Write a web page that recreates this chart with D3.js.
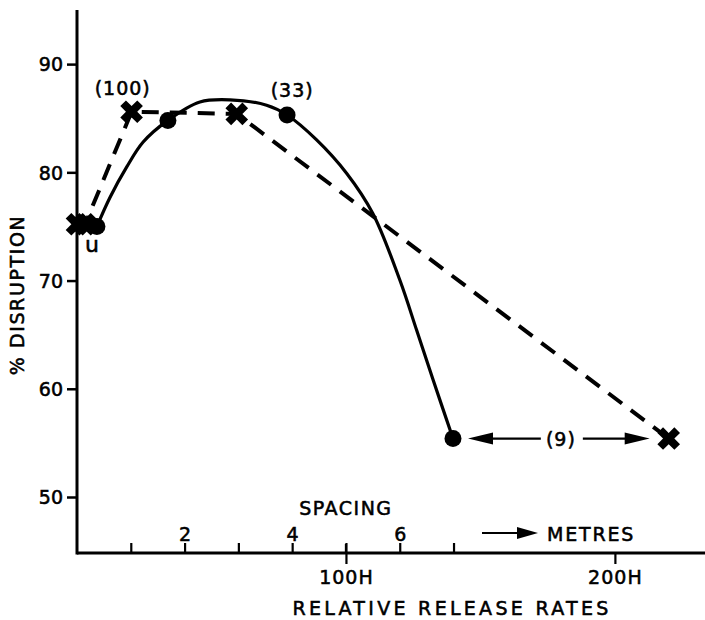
<!DOCTYPE html>
<html>
<head>
<meta charset="utf-8">
<script src="https://cdn.jsdelivr.net/npm/d3@7"></script>
<style>
  html, body { margin: 0; padding: 0; background: #fff; }
  svg { display: block; }
  text { font-family: "DejaVu Sans", sans-serif; fill: #000; stroke: #000; stroke-width: 0.55px; }
</style>
</head>
<body>
<svg id="chart" width="705" height="620"></svg>
<script>
// ---------- data (x in relative release rate units, H; y in % disruption) ----------
const yTicks = [50, 60, 70, 80, 90];
const metreTicks = [1, 2, 3, 4, 5, 6, 7];
const metreLabels = [2, 4, 6];
const rateTicks = [100, 200];
const rateTickLabels = ["100H", "200H"];

// solid-line series (filled circles)
const circleX = [7.4, 33.8, 78.1, 139.8];
const circleY = [75.0, 84.8, 85.3, 55.4];

// dashed-line series (crosses)
const crossX = [0, 3, 20.3, 59.4, 220];
const crossY = [75.2, 75.2, 85.6, 85.4, 55.4];

// fitted solid curve
const fitX = [7.4, 12.3, 18.5, 24.6, 33.8, 45.7, 56.9, 70.5, 78.1, 89.1, 100.3, 110.0, 120.1, 126.3, 132.3, 139.8];
const fitY = [75.0, 77.7, 80.5, 82.8, 84.8, 86.5, 86.7, 86.2, 85.3, 83.0, 79.9, 76.2, 70.0, 65.4, 60.9, 55.4];

// annotations
const annoText = ["(100)", "(33)"];
const annoX = [17, 80];
const annoY = [87.1, 86.95];

// ---------- scales ----------
const svg = d3.select("#chart");
const x = d3.scaleLinear().domain([0, 233.5]).range([77, 705]);
const xm = d3.scaleLinear().domain([0, 233.5 / 20]).range([77, 705]);
const y = d3.scaleLinear().domain([50, 95]).range([497, 10]);
const axisY = 553;

// ---------- y axis ----------
svg.append("line").attr("x1", 77).attr("x2", 77).attr("y1", 10).attr("y2", axisY + 1.5)
  .attr("stroke", "#000").attr("stroke-width", 3);
const yAxis = svg.append("g").attr("transform", "translate(77,0)")
  .call(d3.axisLeft(y).tickValues(yTicks).tickSize(10).tickSizeOuter(0).tickPadding(4));
yAxis.select(".domain").remove();
yAxis.selectAll(".tick line").attr("stroke", "#000").attr("stroke-width", 2.5);
yAxis.selectAll(".tick text").attr("font-size", 19).attr("dy", "0.36em").attr("fill", "#000");

svg.append("text").attr("transform", "translate(24,295) rotate(-90)")
  .attr("text-anchor", "middle").attr("font-size", 19).attr("letter-spacing", 1.6)
  .text("% DISRUPTION");

// ---------- x axis ----------
svg.append("line").attr("x1", 77).attr("x2", 705).attr("y1", axisY).attr("y2", axisY)
  .attr("stroke", "#000").attr("stroke-width", 3);

// metre ticks (above axis)
const mAxis = svg.append("g").attr("transform", `translate(0,${axisY})`)
  .call(d3.axisTop(xm).tickValues(metreTicks).tickSize(10).tickSizeOuter(0)
    .tickFormat(d => metreLabels.includes(d) ? d : ""));
mAxis.select(".domain").remove();
mAxis.selectAll(".tick line").attr("stroke", "#000").attr("stroke-width", 2.2);
mAxis.selectAll(".tick text").attr("font-size", 19).attr("y", -12).attr("dy", 0).attr("fill", "#000");

// release-rate ticks (below axis)
const rAxis = svg.append("g").attr("transform", `translate(0,${axisY})`)
  .call(d3.axisBottom(x).tickValues(rateTicks).tickSize(11).tickSizeOuter(0)
    .tickFormat((d, i) => rateTickLabels[i]));
rAxis.select(".domain").remove();
rAxis.selectAll(".tick line").attr("stroke", "#000").attr("stroke-width", 2.2);
rAxis.selectAll(".tick text").attr("font-size", 19).attr("y", 31).attr("dy", 0)
  .attr("letter-spacing", 1).attr("fill", "#000");
// 100H tick also crosses above
svg.append("line").attr("x1", x(100)).attr("x2", x(100)).attr("y1", axisY - 9).attr("y2", axisY)
  .attr("stroke", "#000").attr("stroke-width", 2.2);

svg.append("text").attr("x", x(100)).attr("y", 515).attr("text-anchor", "middle")
  .attr("font-size", 19).attr("letter-spacing", 1.5).text("SPACING");
svg.append("text").attr("x", 452).attr("y", 615).attr("text-anchor", "middle")
  .attr("font-size", 19).attr("letter-spacing", 3.3).text("RELATIVE RELEASE RATES");

// "→ METRES"
svg.append("line").attr("x1", 482).attr("x2", 520).attr("y1", 533).attr("y2", 533)
  .attr("stroke", "#000").attr("stroke-width", 2.2);
svg.append("path").attr("d", "M517,527 L538,533 L517,539 Z").attr("fill", "#000");
svg.append("text").attr("x", 547).attr("y", 541).attr("font-size", 19)
  .attr("letter-spacing", 1.8).text("METRES");

// ---------- lines ----------
const fitPts = fitX.map((d, i) => [d, fitY[i]]);
const crossPts = crossX.map((d, i) => [d, crossY[i]]);

svg.append("path").datum(fitPts)
  .attr("d", d3.line().x(d => x(d[0])).y(d => y(d[1])).curve(d3.curveCatmullRom.alpha(0.5)))
  .attr("fill", "none").attr("stroke", "#000").attr("stroke-width", 3.2);

svg.append("path").datum(crossPts)
  .attr("d", d3.line().x(d => x(d[0])).y(d => y(d[1])))
  .attr("fill", "none").attr("stroke", "#000").attr("stroke-width", 4)
  .attr("stroke-dasharray", "17,11");

// ---------- markers ----------
svg.selectAll("circle.pt").data(circleX).join("circle").attr("class", "pt")
  .attr("cx", d => x(d)).attr("cy", (d, i) => y(circleY[i])).attr("r", 8.5).attr("fill", "#000");

svg.selectAll("path.cross").data(crossX).join("path").attr("class", "cross")
  .attr("d", d3.symbol().type(d3.symbolCross).size(320))
  .attr("transform", (d, i) => `translate(${x(d)},${y(crossY[i])}) rotate(45)`)
  .attr("fill", "#000");

// ---------- annotations ----------
svg.selectAll("text.anno").data(annoText).join("text").attr("class", "anno")
  .attr("x", (d, i) => x(annoX[i])).attr("y", (d, i) => y(annoY[i]))
  .attr("text-anchor", "middle").attr("font-size", 19).attr("letter-spacing", 1)
  .text(d => d);

svg.append("text").attr("x", 92).attr("y", 252).attr("text-anchor", "middle")
  .attr("font-size", 22).text("u");

// "(9)" with double-headed arrow between the last circle and last cross
const arrowY = y(55.4);
const leftTip = x(circleX[3]) + 15, rightTip = x(crossX[4]) - 19;
const midX = (leftTip + rightTip) / 2 + 2;
svg.append("line").attr("x1", leftTip + 20).attr("x2", midX - 20).attr("y1", arrowY).attr("y2", arrowY)
  .attr("stroke", "#000").attr("stroke-width", 2.2);
svg.append("line").attr("x1", midX + 22).attr("x2", rightTip - 20).attr("y1", arrowY).attr("y2", arrowY)
  .attr("stroke", "#000").attr("stroke-width", 2.2);
svg.append("path").attr("d", `M${leftTip},${arrowY} L${leftTip + 25},${arrowY - 6} L${leftTip + 25},${arrowY + 6} Z`).attr("fill", "#000");
svg.append("path").attr("d", `M${rightTip},${arrowY} L${rightTip - 25},${arrowY - 6} L${rightTip - 25},${arrowY + 6} Z`).attr("fill", "#000");
svg.append("text").attr("x", midX).attr("y", arrowY + 7).attr("text-anchor", "middle")
  .attr("font-size", 19).attr("letter-spacing", 1).text("(9)");
</script>
</body>
</html>
